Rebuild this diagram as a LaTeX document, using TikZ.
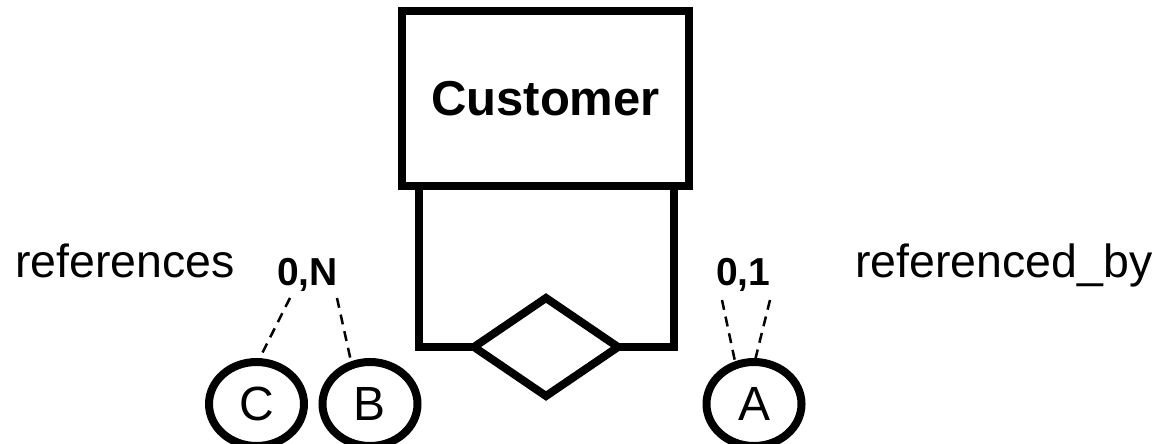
\documentclass[tikz,border=0pt]{standalone}
\usepackage{fontspec}
\setmainfont{Liberation Sans}
\usetikzlibrary{shapes.geometric}
\begin{document}
\begin{tikzpicture}[x=1pt,y=-1pt,
  thickline/.style={line width=8pt},
  entity/.style={draw, line width=8pt, minimum width=287pt, minimum height=175pt, inner sep=0pt, font=\fontsize{49}{56}\selectfont\bfseries},
  rel/.style={draw, diamond, line width=8pt, minimum width=144pt, minimum height=98pt, inner sep=0pt, outer sep=0pt},
  attr/.style={draw, ellipse, line width=8pt, minimum width=95pt, minimum height=84pt, inner sep=0pt, font=\fontsize{48}{54}\selectfont},
  card/.style={font=\fontsize{39}{42}\selectfont\bfseries, inner sep=0pt, anchor=base west},
  role/.style={font=\fontsize{46.5}{54}\selectfont, inner sep=0pt, anchor=base west},
  link/.style={dash pattern=on 10pt off 7pt, line width=2.5pt}]
\useasboundingbox (0,0) rectangle (1165,444);
\node[entity] (cust) at (545.5,98.5) {Customer};
\node[rel] (rel) at (546,347) {};
\coordinate (lx) at (418.5,186);
\coordinate (rx) at (673.5,186);
\draw[thickline, line join=miter] (lx) |- (rel.west);
\draw[thickline, line join=miter] (rx) |- (rel.east);
\node[attr] (C) at (256.5,404) {C};
\node[attr] (B) at (370,404) {B};
\node[attr] (A) at (754,404) {A};
\node[role] (refs) at (15,277) {references};
\node[role] (refby) at (855,277) {referenced\_by};
\node[card] (cN) at (277,285) {0,N};
\node[card] (c1) at (716,285) {0,1};
\coordinate (nC) at (290,298);
\coordinate (nB) at (337,298);
\coordinate (oA1) at (722,300);
\coordinate (oA2) at (770,300);
\draw[link] (nC) -- (C.86);
\draw[link] (nB) -- (B.114);
\draw[link] (oA1) -- (A.114);
\draw[link] (oA2) -- (A.88);
\end{tikzpicture}
\end{document}
